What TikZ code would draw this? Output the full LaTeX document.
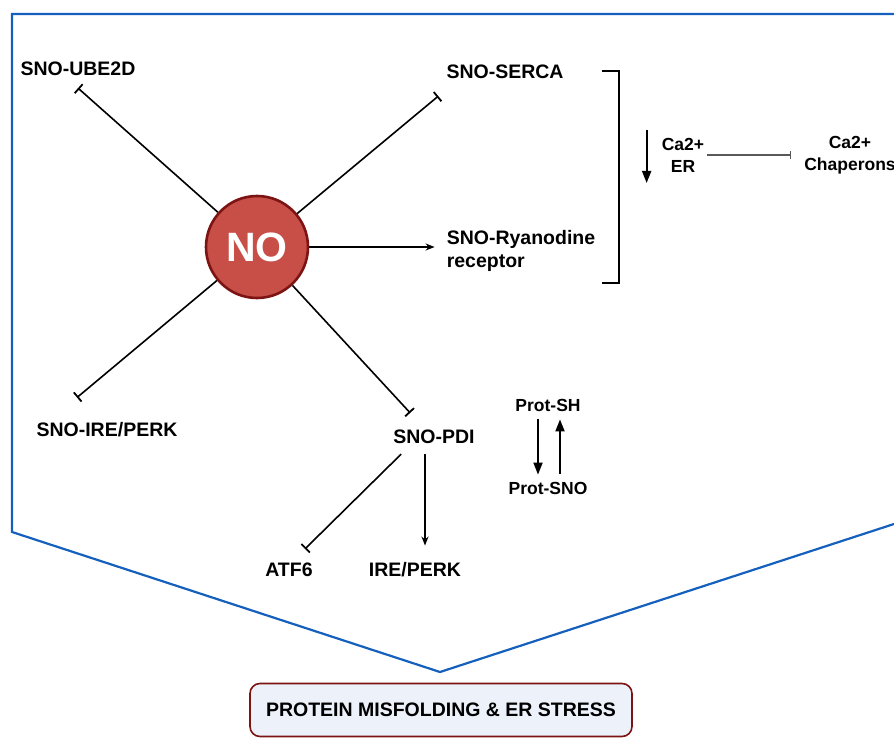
\documentclass[tikz,border=0pt]{standalone}
\usepackage{fontspec}
\setmainfont{Liberation Sans}
\usetikzlibrary{arrows.meta, positioning, calc}
\definecolor{frameblue}{RGB}{21,96,189}
\definecolor{nored}{RGB}{200,78,72}
\definecolor{nodark}{RGB}{125,20,20}
\definecolor{boxfill}{RGB}{236,241,250}

\begin{document}
\begin{tikzpicture}[x=1pt, y=-1pt,
  lbl/.style={font=\fontsize{19.5}{23}\selectfont\bfseries, inner sep=0pt},
  small/.style={font=\fontsize{17.5}{22}\selectfont\bfseries, inner sep=0pt, align=center},
  inh/.style={-{Bar[width=12pt, line width=1.8pt]}, line width=1.6pt},
  act/.style={-{Stealth[length=9pt, width=7pt]}, line width=1.6pt},
  flux/.style={-{Triangle[length=12pt, width=9pt]}, line width=1.8pt}]
  \useasboundingbox (0,0) rectangle (894,738);

  % frame round the scheme
  \draw[frameblue, line width=2.2pt] (894,14) -- (12,14) -- (12,532) -- (440,672) -- (894,524);

  \node[circle, minimum size=102pt, fill=nored, draw=nodark, line width=2.6pt, text=white,
        font=\fontsize{41}{41}\selectfont\bfseries] (no) at (257,247) {NO};

  \node[lbl] (ube) at (78,69) {SNO-UBE2D};
  \node[lbl] (serca) at (505,72) {SNO-SERCA};
  \node[lbl, align=left] (ryr) at (521,251) {SNO-Ryanodine\\receptor};
  \node[lbl] (sirep) at (107,430) {SNO-IRE/PERK};
  \node[lbl] (pdi) at (434,437) {SNO-PDI};
  \node[lbl] (atf) at (289,570) {ATF6};
  \node[lbl] (irep) at (415,570) {IRE/PERK};

  \node[small] (caer) at (683,155) {Ca2+\\ER};
  \node[small] (chap) at (850,155) {Ca2+\\Chaperons};
  \node[small] (psh) at (548,405) {Prot-SH};
  \node[small] (psno) at (548,488) {Prot-SNO};

  \node[draw=nodark, fill=boxfill, rounded corners=10pt, line width=1.6pt,
        minimum width=382pt, minimum height=53pt, lbl] (stress) at (441,710)
        {PROTEIN MISFOLDING \& ER STRESS};

  % from NO
  \draw[inh] (no) -- ([yshift=-12pt]ube.south);
  \draw[inh] (no) -- ([shift={(-8pt,-17pt)}]serca.south west);
  \draw[act, shorten >=12pt] (no.east) -- (no.east -| ryr.west);
  \draw[inh] (no) -- ([shift={(-30pt,25pt)}]sirep.north);
  \draw[inh] (no) -- ([shift={(17pt,17pt)}]pdi.north west);

  % from SNO-PDI
  \draw[inh] ([shift={(8pt,-10pt)}]pdi.south west) -- ([shift={(16pt,14pt)}]atf.north);
  \draw[act] ([shift={(-9pt,-10pt)}]pdi.south) -- ([shift={(10pt,17pt)}]irep.north);

  % bracket and calcium
  \draw[line width=1.8pt] (602,71) -| (619,283) -- (602,283);
  \draw[flux] ([shift={(-15pt,25pt)}]caer.west) -- ([shift={(-15pt,-28pt)}]caer.west);
  \draw[-{Bar[width=8pt]}, line width=1.1pt, black!65, shorten <=3pt, shorten >=13pt]
    (caer.east) -- (chap.west);

  % Prot-SH / Prot-SNO
  \draw[flux] ([shift={(-10pt,-8pt)}]psh.south) -- ([shift={(-10pt,7pt)}]psno.north);
  \draw[flux] ([shift={(12pt,8pt)}]psno.north) -- ([shift={(12pt,-8pt)}]psh.south);
\end{tikzpicture}
\end{document}
